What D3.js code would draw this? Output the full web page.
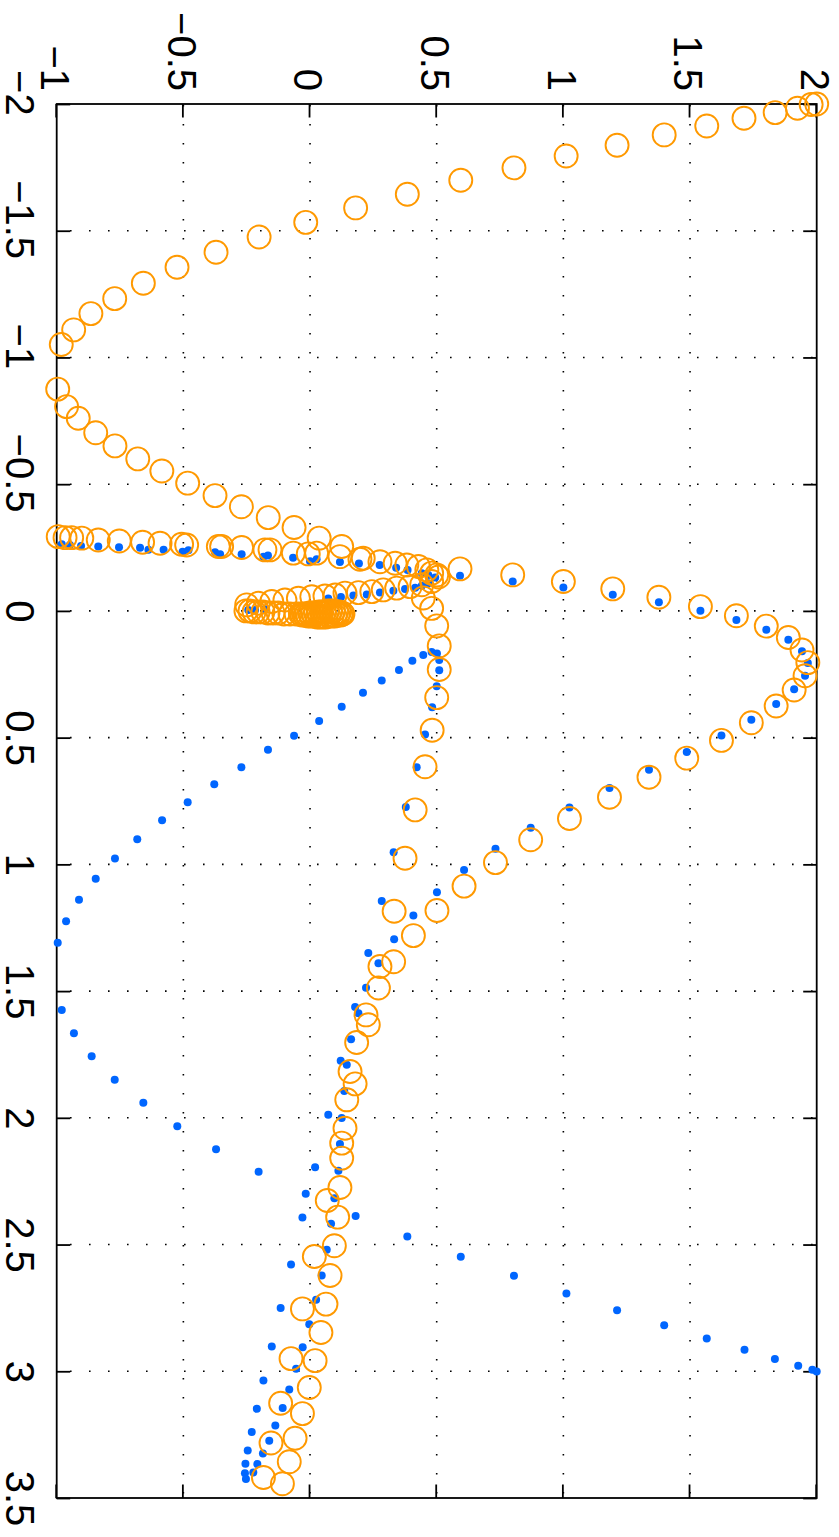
<!DOCTYPE html>
<html>
<head>
<meta charset="utf-8">
<script src="https://cdn.jsdelivr.net/npm/d3@7"></script>
<style>
body { margin: 0; background: #fff; }
</style>
</head>
<body>
<script>
var xTicks = [-2, -1.5, -1, -0.5, 0, 0.5, 1, 1.5, 2, 2.5, 3, 3.5]
var xTickLabels = ["\u22122", "\u22121.5", "\u22121", "\u22120.5", "0", "0.5", "1", "1.5", "2", "2.5", "3", "3.5"]
var yTicks = [-1, -0.5, 0, 0.5, 1, 1.5, 2]
var yTickLabels = ["\u22121", "\u22120.5", "0", "0.5", "1", "1.5", "2"]

// [x, y] pairs

// open circles
var orangeArc = [[-2.000, 2.000], [-1.998, 1.978], [-1.983, 1.924], [-1.966, 1.836], [-1.944, 1.713], [-1.913, 1.566],
    [-1.878, 1.398], [-1.837, 1.212], [-1.795, 1.011], [-1.748, 0.805], [-1.699, 0.595], [-1.644, 0.384],
    [-1.590, 0.180], [-1.533, -0.017], [-1.475, -0.201], [-1.415, -0.371], [-1.356, -0.525], [-1.293, -0.658],
    [-1.232, -0.771], [-1.173, -0.865], [-1.109, -0.933], [-1.051, -0.982], [-0.875, -0.996], [-0.806, -0.961],
    [-0.760, -0.915], [-0.703, -0.846], [-0.651, -0.770], [-0.600, -0.680], [-0.552, -0.585], [-0.504, -0.483],
    [-0.455, -0.375], [-0.411, -0.271], [-0.368, -0.165], [-0.329, -0.063], [-0.287, 0.036], [-0.254, 0.125]]
var orangeBand = [[-0.293, -0.994], [-0.289, -0.967], [-0.289, -0.941], [-0.287, -0.901], [-0.280, -0.836],
    [-0.276, -0.753], [-0.271, -0.661], [-0.267, -0.592], [-0.263, -0.507], [-0.260, -0.487], [-0.254, -0.362],
    [-0.254, -0.349], [-0.250, -0.270], [-0.241, -0.178], [-0.241, -0.158], [-0.228, -0.066], [-0.225, -0.007],
    [-0.228, 0.026], [-0.214, 0.118], [-0.204, 0.197], [-0.208, 0.210], [-0.194, 0.276], [-0.188, 0.336],
    [-0.181, 0.382], [-0.175, 0.428], [-0.162, 0.461], [-0.149, 0.480], [-0.142, 0.500]]
var orangeReturn = [[-0.024, -0.250], [-0.030, -0.204], [-0.037, -0.151], [-0.043, -0.099], [-0.050, -0.046],
    [-0.056, 0.007], [-0.059, 0.059], [-0.063, 0.099], [-0.070, 0.138], [-0.072, 0.191], [-0.076, 0.244],
    [-0.083, 0.289], [-0.090, 0.342], [-0.096, 0.395], [-0.103, 0.441], [-0.116, 0.480], [-0.134, 0.507]]
var orangeCore = [[0.000, -0.253], [0.000, -0.237], [0.004, -0.221], [0.004, -0.205], [0.004, -0.186],
    [0.008, -0.166], [0.008, -0.146], [0.008, -0.126], [0.012, -0.103], [0.012, -0.079], [0.012, -0.055],
    [0.016, -0.032], [0.016, -0.020], [0.020, -0.008], [0.020, 0.004], [0.020, 0.016], [0.024, 0.028],
    [0.024, 0.039], [0.024, 0.051], [0.024, 0.063], [0.020, 0.075], [0.020, 0.087], [0.020, 0.099],
    [0.016, 0.111], [0.016, 0.122], [0.012, 0.130], [0.008, 0.126], [0.004, 0.116], [0.004, 0.105],
    [0.000, 0.093], [0.000, 0.081], [0.000, 0.069], [0.004, 0.057], [0.004, 0.045], [0.004, 0.034],
    [0.008, 0.022], [0.008, 0.010], [0.008, -0.002], [0.012, -0.014], [0.012, -0.026], [0.012, -0.038]]
var orangeLoop = [[-0.166, 0.592], [-0.142, 0.800], [-0.116, 1.000], [-0.087, 1.195], [-0.054, 1.377],
    [-0.017, 1.541], [0.019, 1.683], [0.060, 1.801], [0.105, 1.888], [0.154, 1.942], [0.204, 1.965],
    [0.256, 1.954], [0.312, 1.911], [0.375, 1.840], [0.441, 1.742], [0.511, 1.624], [0.581, 1.487],
    [0.656, 1.338], [0.735, 1.182], [0.819, 1.024], [0.903, 0.871], [0.993, 0.732], [1.086, 0.608],
    [1.182, 0.501], [1.281, 0.408], [1.384, 0.330]]
var orangeStem = [[-0.051, 0.447], [-0.010, 0.480], [0.059, 0.500], [0.138, 0.510], [0.231, 0.510],
    [0.342, 0.500], [0.471, 0.482], [0.615, 0.454], [0.785, 0.415], [0.976, 0.375], [1.185, 0.332],
    [1.403, 0.276], [1.488, 0.270], [1.594, 0.221], [1.633, 0.230], [1.703, 0.184], [1.817, 0.158],
    [1.866, 0.178], [1.929, 0.145], [2.041, 0.138], [2.100, 0.125], [2.159, 0.125], [2.275, 0.118],
    [2.326, 0.068], [2.392, 0.109], [2.505, 0.096], [2.547, 0.017], [2.622, 0.079], [2.735, 0.063],
    [2.754, -0.030], [2.847, 0.043], [2.950, -0.075], [2.958, 0.020], [3.064, -0.003], [3.126, -0.116],
    [3.167, -0.030], [3.264, -0.059], [3.283, -0.154], [3.357, -0.082], [3.419, -0.184], [3.444, -0.109]]

// filled dots
var blueBand = [[-0.263, -0.980], [-0.260, -0.948], [-0.256, -0.904], [-0.254, -0.836], [-0.251, -0.754],
    [-0.249, -0.671], [-0.241, -0.638], [-0.241, -0.578], [-0.233, -0.503], [-0.239, -0.480], [-0.231, -0.375],
    [-0.224, -0.355], [-0.224, -0.270], [-0.214, -0.184], [-0.219, -0.166], [-0.210, -0.067], [-0.196, 0.000],
    [-0.204, 0.026], [-0.193, 0.118], [-0.187, 0.193], [-0.181, 0.275], [-0.170, 0.340], [-0.161, 0.385],
    [-0.149, 0.441], [-0.142, 0.467], [-0.132, 0.494]]
var blueReturn = [[-0.004, -0.244], [-0.004, -0.217], [-0.007, -0.178], [-0.049, 0.072], [-0.055, 0.122],
    [-0.061, 0.171], [-0.065, 0.224], [-0.073, 0.276], [-0.080, 0.329], [-0.086, 0.375], [-0.091, 0.415],
    [-0.099, 0.441], [-0.109, 0.467]]
var blueLoop = [[-0.139, 0.592], [-0.116, 0.800], [-0.092, 1.000], [-0.064, 1.195], [-0.034, 1.377],
    [-0.001, 1.541], [0.036, 1.683], [0.074, 1.801], [0.114, 1.888], [0.159, 1.942], [0.206, 1.965],
    [0.256, 1.954], [0.309, 1.911], [0.367, 1.840], [0.429, 1.742], [0.492, 1.624], [0.557, 1.487],
    [0.627, 1.338], [0.699, 1.182], [0.776, 1.024], [0.856, 0.871], [0.938, 0.732], [1.022, 0.608],
    [1.110, 0.501], [1.202, 0.408], [1.295, 0.332], [1.390, 0.270]]
var blueStem = [[0.162, 0.480], [0.168, 0.501], [0.194, 0.510], [0.234, 0.510], [0.297, 0.500],
    [0.380, 0.482], [0.488, 0.454], [0.617, 0.421], [0.774, 0.378], [0.952, 0.330], [1.145, 0.283],
    [1.350, 0.230], [1.487, 0.221], [1.563, 0.178], [1.587, 0.191], [1.690, 0.162], [1.775, 0.121],
    [1.791, 0.145], [1.894, 0.135], [1.988, 0.072], [2.001, 0.125], [2.103, 0.118], [2.195, 0.020],
    [2.209, 0.112], [2.317, 0.096], [2.393, -0.030], [2.418, 0.083], [2.521, 0.066], [2.579, -0.075],
    [2.622, 0.046], [2.718, 0.024], [2.750, -0.116], [2.814, -0.003], [2.902, -0.151], [2.905, -0.029],
    [2.990, -0.055], [3.036, -0.184], [3.072, -0.082], [3.148, -0.210], [3.145, -0.108], [3.214, -0.137],
    [3.240, -0.230], [3.274, -0.161], [3.313, -0.246], [3.324, -0.186], [3.365, -0.255], [3.366, -0.208],
    [3.402, -0.257], [3.399, -0.224], [3.425, -0.253]]
var blueArc = [[0.174, 0.447], [0.197, 0.404], [0.233, 0.351], [0.275, 0.283], [0.323, 0.209], [0.378, 0.125],
    [0.434, 0.036], [0.493, -0.063], [0.548, -0.166], [0.617, -0.271], [0.684, -0.378], [0.755, -0.483],
    [0.826, -0.584], [0.901, -0.682], [0.977, -0.770], [1.057, -0.846], [1.140, -0.912], [1.224, -0.963],
    [1.309, -0.996], [1.575, -0.980], [1.666, -0.932], [1.757, -0.862], [1.850, -0.771], [1.941, -0.658],
    [2.033, -0.524], [2.124, -0.371], [2.213, -0.203], [2.300, -0.017], [2.387, 0.180], [2.468, 0.384],
    [2.548, 0.595], [2.623, 0.805], [2.693, 1.012], [2.759, 1.212], [2.818, 1.398], [2.871, 1.566],
    [2.915, 1.715], [2.952, 1.835], [2.978, 1.927], [2.994, 1.983], [3.001, 2.000]]

var blueColor = "#0066ff"
var orangeColor = "#ff9900"
var fontFamily = "'Liberation Sans', Arial, Helvetica, sans-serif"

var W = 839, H = 1537
var plotLeft = 56.7, plotTop = 104
var plotW = 760   // screen width of the axes box (y axis of the figure)
var plotH = 1394  // screen height of the axes box (x axis of the figure)
var tickLen = 13.5

var svg = d3.select("body").append("svg")
    .attr("width", W)
    .attr("height", H)

svg.append("rect").attr("width", W).attr("height", H).attr("fill", "#fff")

// the figure is drawn upright and then turned a quarter turn clockwise
var g = svg.append("g")
    .attr("transform", "translate(" + (plotLeft + plotW) + "," + plotTop + ") rotate(90)")

var x = d3.scaleLinear().domain([-2, 3.5]).range([0, plotH])
var y = d3.scaleLinear().domain([-1, 2]).range([plotW, 0])

// dotted grid
g.append("g").selectAll("line")
    .data(xTicks.slice(1, -1))
    .enter()
    .append("line")
    .attr("x1", function(d) { return x(d) })
    .attr("x2", function(d) { return x(d) })
    .attr("y1", plotW)
    .attr("y2", 0)
    .attr("stroke", "#000")
    .attr("stroke-width", 1.6)
    .attr("stroke-dasharray", "1.6,17.4")
    .attr("stroke-dashoffset", 5.7)

g.append("g").selectAll("line")
    .data(yTicks.slice(1, -1))
    .enter()
    .append("line")
    .attr("x1", 0)
    .attr("x2", plotH)
    .attr("y1", function(d) { return y(d) })
    .attr("y2", function(d) { return y(d) })
    .attr("stroke", "#000")
    .attr("stroke-width", 1.6)
    .attr("stroke-dasharray", "1.6,17.4")
    .attr("stroke-dashoffset", 18)

// axes with inward ticks on all four sides
function styleAxis(sel) {
    sel.attr("font-size", 40).attr("font-family", fontFamily)
    sel.select(".domain").remove()
    sel.selectAll(".tick line").attr("stroke-width", 1.8)
}

var gBottom = g.append("g")
    .attr("transform", "translate(0," + plotW + ")")
    .call(d3.axisBottom(x).tickValues(xTicks)
        .tickFormat(function(d, i) { return xTickLabels[i] })
        .tickSizeInner(-tickLen).tickSizeOuter(0).tickPadding(22))
    .call(styleAxis)
gBottom.selectAll("text")
    .attr("dx", function(d) { return d < 0 ? "-0.29em" : null })

g.append("g")
    .call(d3.axisTop(x).tickValues(xTicks).tickFormat("")
        .tickSizeInner(-tickLen).tickSizeOuter(0))
    .call(styleAxis)

var gLeft = g.append("g")
    .call(d3.axisLeft(y).tickValues(yTicks)
        .tickFormat(function(d, i) { return yTickLabels[i] })
        .tickSizeInner(-tickLen).tickSizeOuter(0).tickPadding(13))
    .call(styleAxis)
gLeft.selectAll("text").attr("dy", "0.38em")

g.append("g")
    .attr("transform", "translate(" + plotH + ",0)")
    .call(d3.axisRight(y).tickValues(yTicks).tickFormat("")
        .tickSizeInner(-tickLen).tickSizeOuter(0))
    .call(styleAxis)

g.append("rect")
    .attr("width", plotH)
    .attr("height", plotW)
    .attr("fill", "none")
    .attr("stroke", "#000")
    .attr("stroke-width", 1.8)

// markers
var blueAll = blueBand.concat(blueReturn, blueLoop, blueStem, blueArc)
var orangeAll = orangeArc.concat(orangeBand, orangeReturn, orangeCore, orangeLoop, orangeStem)

g.append("g").selectAll("circle")
    .data(blueAll)
    .enter()
    .append("circle")
    .attr("cx", function(d) { return x(d[0]) })
    .attr("cy", function(d) { return y(d[1]) })
    .attr("r", 4)
    .attr("fill", blueColor)

g.append("g").selectAll("circle")
    .data(orangeAll)
    .enter()
    .append("circle")
    .attr("cx", function(d) { return x(d[0]) })
    .attr("cy", function(d) { return y(d[1]) })
    .attr("r", 11.5)
    .attr("fill", "none")
    .attr("stroke", orangeColor)
    .attr("stroke-width", 1.9)
</script>
</body>
</html>
